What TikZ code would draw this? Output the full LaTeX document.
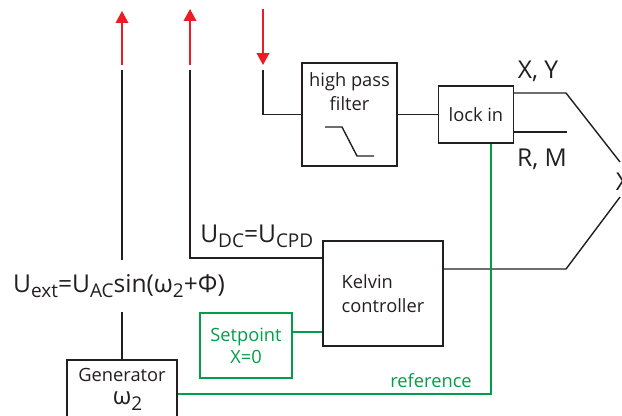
\documentclass[tikz,border=0pt]{standalone}
\usepackage{fontspec}
\setmainfont{Open Sans}
\usetikzlibrary{arrows.meta, positioning}
\definecolor{sigred}{RGB}{237,28,36}
\definecolor{refgreen}{RGB}{0,158,73}
\definecolor{ink}{RGB}{35,31,32}
\newcommand{\lo}[1]{\raisebox{-4pt}{\fontsize{13.5}{13.5}\selectfont #1}}

\begin{document}
\begin{tikzpicture}[
    x=0.025cm, y=-0.025cm,
    font=\fontsize{13}{17.5}\selectfont,
    text=ink,
    box/.style={
      draw=ink,
      line width=1pt,
      align=center,
      inner sep=0pt
    },
    refbox/.style={
      box,
      draw=refgreen,
      text=refgreen
    },
    sig/.style={
      font=\fontsize{17.5}{20}\selectfont,
      inner sep=0pt
    },
    wire/.style={
      draw=ink,
      line width=1pt
    },
    refline/.style={
      draw=refgreen,
      line width=1pt
    },
    arrow/.style={
      -{Triangle[length=8.5pt, width=9pt]},
      draw=sigred,
      line width=1pt
    }
  ]
    \useasboundingbox (0,0) rectangle (622,415);

    % Blocks
    \node[box, minimum width=2.375cm, minimum height=2.575cm] (hpf) at (349.5,114.5) {};
    \node[anchor=north, align=center, inner sep=0pt] (hpftext) at ([yshift=-7pt]hpf.north) {high pass\\filter};
    \draw[wire] ([shift={(-24.5,12.5)}]hpf.center) -- ++(17,0) -- ++(15,29) -- ++(17,0);

    \node[box, minimum width=1.875cm, minimum height=1.425cm, right=1cm of hpf] (lockin) {lock in};
    \node[box, align=left, minimum width=3cm, minimum height=2.625cm] (kelvin) at (383,293.5) {Kelvin\\controller};
    \node[refbox, font=\fontsize{13}{15.6}\selectfont, minimum width=2.3cm, minimum height=1.625cm] (setpoint) at (246,345.5) {Setpoint\\X=0};
    \node[box, minimum width=2.75cm, minimum height=2cm] (gen) at (122,400) {};
    \node[anchor=north, align=center, inner sep=0pt] (gentext) at ([yshift=-6pt]gen.north)
      {Generator\\[-1pt]\hspace*{8pt}{\fontsize{17}{20}\selectfont ω}\lo{2}};

    % Signal labels
    \node[sig, inner ysep=10pt] (uext) at (119,286) {U\lo{ext}=U\lo{AC}sin(ω\lo{2}+Φ)};
    \node[sig, anchor=base west] (udc) at (200,242) {U\lo{DC}=U\lo{CPD}};
    \node[sig, anchor=base] (xy) at (538,78) {X, Y};
    \node[sig, anchor=base] (rm) at (542,166) {R, M};
    \node[sig, inner sep=3pt] (xout) at (623,181.5) {X};
    \node[anchor=base east, inner sep=0pt, text=refgreen] (reflabel) at (472,387) {reference};

    % Red signal arrows
    \coordinate (r1a) at (122,65);  \coordinate (r1b) at (122,11);
    \coordinate (r2a) at (190,65);  \coordinate (r2b) at (190,9);
    \coordinate (r3a) at (263,9);   \coordinate (r3b) at (263,65);
    \draw[arrow] (r1a) -- (r1b);
    \draw[arrow] (r2a) -- (r2b);
    \draw[arrow] (r3a) -- (r3b);

    % Wires
    \coordinate (w1) at (122,70);
    \coordinate (w2) at (190,70);
    \coordinate (w3) at (263,70);
    \coordinate (udccorner) at (190,258);
    \coordinate (xyend) at (566,93);
    \coordinate (rmend) at (567,132);
    \coordinate (kend) at (566,269);
    \coordinate (xin1) at (620,162);
    \coordinate (xin2) at (620,197);

    \draw[wire] (w1) -- (w1 |- uext.north);
    \draw[wire] (gen.north |- uext.south) -- (gen.north);
    \draw[wire] (w2) -- (udccorner) -- (udccorner -| kelvin.west);
    \draw[wire] (w3) |- (hpf.west);
    \draw[wire] (hpf.east) -- (hpf.east -| lockin.west);
    \draw[wire] (lockin.east |- xyend) -- (xyend) -- (xin1);
    \draw[wire] (lockin.east |- rmend) -- (rmend);
    \draw[wire] (kelvin.east |- kend) -- (kend) -- (xin2);

    % Reference path
    \coordinate (refcorner) at (491,394);
    \coordinate (sp) at (300,332);
    \draw[refline] (refcorner |- lockin.south) -- (refcorner) -- (refcorner -| gen.east);
    \draw[refline] (setpoint.east |- sp) -- (sp -| kelvin.west);

  \end{tikzpicture}
\end{document}
